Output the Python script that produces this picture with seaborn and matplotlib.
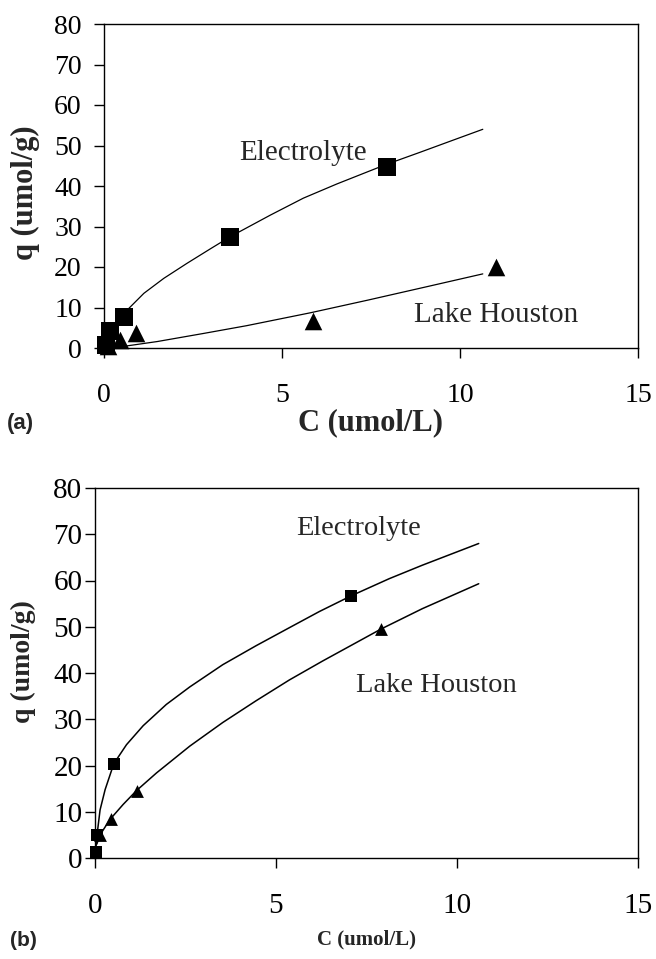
import matplotlib
matplotlib.use("Agg")
import matplotlib.pyplot as plt
import seaborn as sns

# Panel (a): measured points
elec_a_C = [0.05, 0.17, 0.57, 3.53, 7.96]
elec_a_q = [0.7, 4.3, 7.7, 27.5, 44.8]
lake_a_C = [0.1, 0.45, 0.89, 5.86, 11.0]
lake_a_q = [0.5, 2.0, 3.8, 6.7, 20.1]

# Panel (a): fitted curves
elec_a_fit_C = [0.70, 1.12, 1.68, 2.33, 2.99, 3.55, 4.67, 5.60, 6.54, 7.89, 8.87, 9.80, 10.64]
elec_a_fit_q = [9.8, 13.5, 17.2, 20.9, 24.5, 27.5, 32.8, 37.0, 40.5, 45.2, 48.3, 51.3, 54.0]
lake_a_fit_C = [0.55, 1.5, 2.8, 4.0, 5.8, 7.4, 9.0, 10.64]
lake_a_fit_q = [0.4, 1.6, 3.6, 5.5, 8.7, 11.8, 15.0, 18.3]

# Panel (b): measured points
elec_b_C = [0.03, 0.05, 0.52, 7.08]
elec_b_q = [1.3, 5.0, 20.4, 56.7]
lake_b_C = [0.14, 0.44, 1.16, 7.9]
lake_b_q = [5.0, 8.5, 14.4, 49.5]

# Panel (b): fitted curves
elec_b_fit_C = [0.02, 0.05, 0.14, 0.28, 0.52, 0.87, 1.33, 1.97, 2.62, 3.53, 4.45,
                5.37, 6.2, 7.08, 8.13, 9.04, 10.6]
elec_b_fit_q = [1.5, 4.6, 10.4, 14.8, 20.4, 24.5, 28.6, 33.2, 37.0, 41.8, 45.9,
                49.8, 53.3, 56.7, 60.4, 63.3, 68.0]
lake_b_fit_C = [0.05, 0.14, 0.41, 0.78, 1.15, 1.70, 2.62, 3.53, 4.45, 5.37, 6.29,
                7.9, 9.04, 10.6]
lake_b_fit_q = [3.0, 5.0, 8.3, 11.6, 14.6, 18.4, 24.2, 29.3, 34.0, 38.5, 42.6,
                49.5, 53.9, 59.3]

x_ticks = [0, 5, 10, 15]
y_ticks = [0, 10, 20, 30, 40, 50, 60, 70, 80]

sns.set_theme(style="ticks")
plt.rcParams["font.family"] = ["Liberation Serif", "DejaVu Serif"]

fig = plt.figure(figsize=(6.56, 9.59), dpi=100)
ax_a = fig.add_axes([104 / 656, 1 - 348 / 959, 534 / 656, 324 / 959])
ax_b = fig.add_axes([95 / 656, 1 - 858 / 959, 543 / 656, 370 / 959])


def style_axis(ax, tick_size, xpad, ypad, tick_len):
    ax.set_xlim(0, 15)
    ax.set_ylim(0, 80)
    ax.set_xticks(x_ticks)
    ax.set_yticks(y_ticks)
    for s in ax.spines.values():
        s.set_visible(True)
        s.set_color("black")
        s.set_linewidth(1.0)
    ax.tick_params(axis="x", direction="out", length=tick_len, width=1.0,
                   labelsize=tick_size, pad=xpad, colors="black")
    ax.tick_params(axis="y", direction="out", length=tick_len, width=1.0,
                   labelsize=tick_size, pad=ypad, colors="black")
    ax.grid(False)


# ---- (a)
sns.lineplot(x=elec_a_fit_C, y=elec_a_fit_q, ax=ax_a, color="black", lw=0.9, sort=False)
sns.lineplot(x=lake_a_fit_C, y=lake_a_fit_q, ax=ax_a, color="black", lw=0.9, sort=False)
sns.scatterplot(x=elec_a_C, y=elec_a_q, ax=ax_a, marker="s", s=169, color="black",
                edgecolor="black", linewidth=0, clip_on=False, zorder=3)
sns.scatterplot(x=lake_a_C, y=lake_a_q, ax=ax_a, marker="^", s=160, color="black",
                edgecolor="black", linewidth=0, clip_on=False, zorder=3)
style_axis(ax_a, 20, 18, 9, 7)
ax_a.text(3.8, 48.1, "Electrolyte", fontsize=21, va="center", ha="left")
ax_a.text(8.7, 8.1, "Lake Houston", fontsize=21, va="center", ha="left")
ax_a.set_xlabel("C (umol/L)", fontsize=22, fontweight="bold")
ax_a.xaxis.set_label_coords(0.5, -0.231)
ax_a.xaxis.label.set_va("center")
ax_a.set_ylabel("q (umol/g)", fontsize=22, fontweight="bold")
ax_a.yaxis.set_label_coords(-0.148, 0.48)
ax_a.yaxis.label.set_va("center")
fig.text(7 / 656, 1 - 423 / 959, "(a)", fontsize=16, fontweight="bold",
         family="Liberation Sans", va="center", ha="left")

# ---- (b)
sns.lineplot(x=elec_b_fit_C, y=elec_b_fit_q, ax=ax_b, color="black", lw=1.1, sort=False)
sns.lineplot(x=lake_b_fit_C, y=lake_b_fit_q, ax=ax_b, color="black", lw=1.1, sort=False)
sns.scatterplot(x=elec_b_C, y=elec_b_q, ax=ax_b, marker="s", s=83, color="black",
                edgecolor="black", linewidth=0, clip_on=False, zorder=3)
sns.scatterplot(x=lake_b_C, y=lake_b_q, ax=ax_b, marker="^", s=85, color="black",
                edgecolor="black", linewidth=0, clip_on=False, zorder=3)
style_axis(ax_b, 21, 18, 2, 7)
ax_b.text(5.56, 71.3, "Electrolyte", fontsize=20.5, va="center", ha="left")
ax_b.text(7.2, 37.4, "Lake Houston", fontsize=20.5, va="center", ha="left")
ax_b.set_xlabel("C (umol/L)", fontsize=15, fontweight="bold")
ax_b.xaxis.set_label_coords(0.5, -0.22)
ax_b.xaxis.label.set_va("center")
ax_b.set_ylabel("q (umol/g)", fontsize=20, fontweight="bold")
ax_b.yaxis.set_label_coords(-0.131, 0.532)
ax_b.yaxis.label.set_va("center")
fig.text(10 / 656, 1 - 940 / 959, "(b)", fontsize=15, fontweight="bold",
         family="Liberation Sans", va="center", ha="left")

fig.savefig("out.png", dpi=100)
